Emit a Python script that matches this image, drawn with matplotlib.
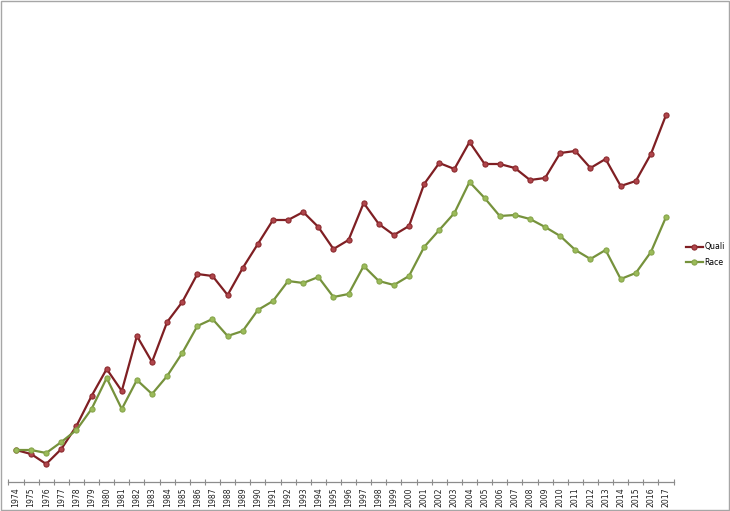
import matplotlib
matplotlib.use("Agg")
import matplotlib.pyplot as plt
from matplotlib.patches import Rectangle
from matplotlib.ticker import FixedLocator

years = list(range(1974, 2018))
quali = [32, 28, 18, 33, 56, 86, 113, 91, 146, 120, 160, 180, 208, 206, 187, 214,
         238, 262, 262, 270, 255, 233, 242, 279, 258, 247, 256, 298, 319, 313,
         340, 318, 318, 314, 302, 304, 329, 331, 314, 323, 296, 301, 328, 367]
race = [32, 32, 29, 40, 52, 73, 104, 73, 102, 88, 106, 129, 156, 163, 146, 151,
        172, 181, 201, 199, 205, 185, 188, 216, 201, 197, 206, 235, 252, 269,
        300, 284, 266, 267, 263, 255, 246, 232, 223, 232, 203, 209, 230, 265]

fig = plt.figure(figsize=(7.30, 5.11), dpi=100)
fig.patches.append(Rectangle((0.0007, 0.001), 0.9986, 0.997, transform=fig.transFigure,
                             fill=False, edgecolor="#a6a6a6", linewidth=1.0))
ax = fig.add_axes([8.4 / 730, 29 / 511, (673.6 - 8.4) / 730, 472 / 511])

x = list(range(len(years)))
ax.plot(x, quali, color="#7f1f23", linewidth=1.6, marker="o", markersize=3.7,
        markerfacecolor="#b0454b", markeredgecolor="#8b2a2e", markeredgewidth=0.8,
        label="Quali")
ax.plot(x, race, color="#76923c", linewidth=1.6, marker="o", markersize=3.7,
        markerfacecolor="#9bbb59", markeredgecolor="#86a44a", markeredgewidth=0.8,
        label="Race")

ax.set_xlim(-0.5, len(years) - 0.5)
ax.set_ylim(0, 472)
for s in ["top", "right", "left"]:
    ax.spines[s].set_visible(False)
ax.spines["bottom"].set_color("#8c8c8c")
ax.spines["bottom"].set_linewidth(0.9)
ax.set_yticks([])
ax.set_xticks(x)
ax.set_xticklabels([str(y) for y in years], rotation=90, fontsize=5.6, color="#222222")
ax.tick_params(axis="x", which="major", length=0, pad=4)
ax.xaxis.set_minor_locator(FixedLocator([i - 0.5 for i in range(len(years) + 1)]))
ax.tick_params(axis="x", which="minor", length=4, direction="inout", color="#8c8c8c", width=0.8)

leg = fig.legend(loc="center left", bbox_to_anchor=(682 / 730, 1 - 254.5 / 511),
                 frameon=False, fontsize=5.6, handlelength=2.2, handletextpad=0.2,
                 labelspacing=0.8, borderpad=0)
fig.savefig("out.png", dpi=100)
